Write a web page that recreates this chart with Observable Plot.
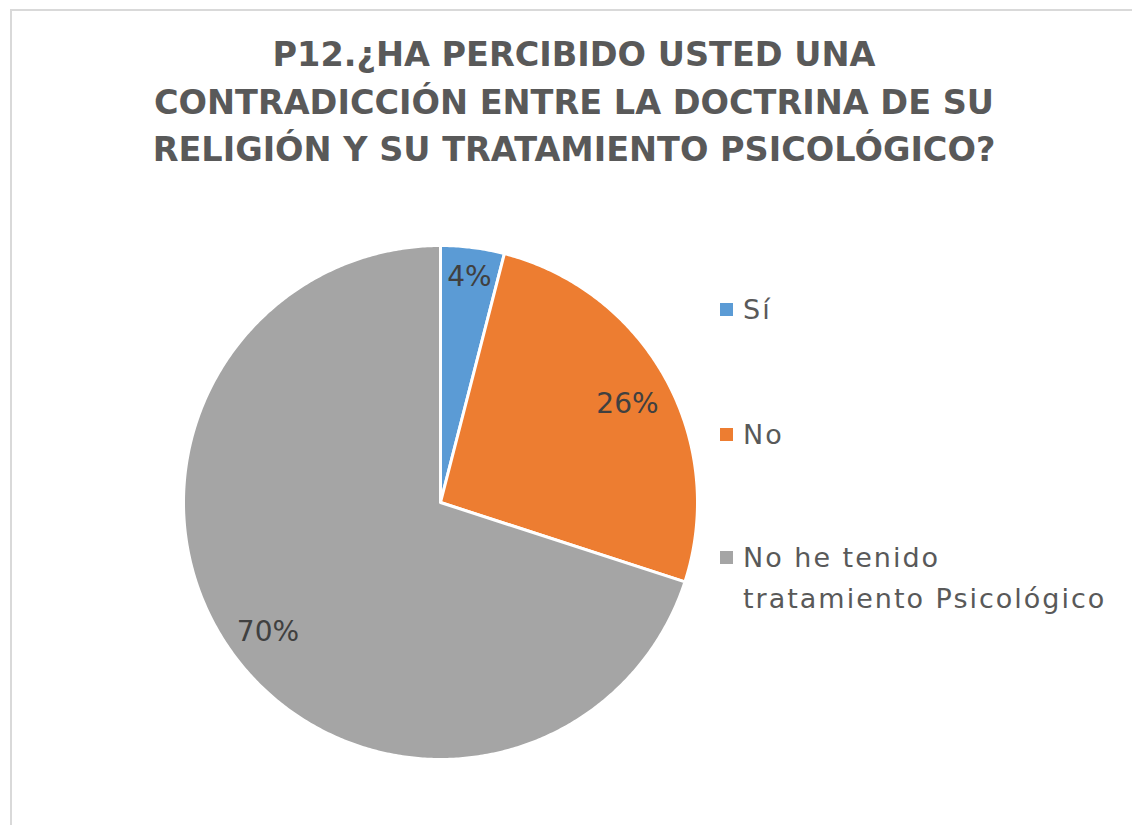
<!DOCTYPE html>
<html>
<head>
<meta charset="utf-8">
<script src="https://cdn.jsdelivr.net/npm/d3@7"></script>
<script src="https://cdn.jsdelivr.net/npm/@observablehq/plot@0.6"></script>
<style>
  html, body { margin: 0; padding: 0; background: #fff; }
  body { width: 1132px; height: 825px; position: relative; overflow: hidden; }
  #frame { position: absolute; left: 10px; top: 9px; width: 1200px; height: 900px;
           border-left: 2px solid #d9d9d9; border-top: 2px solid #d9d9d9; }
  #chart { position: absolute; left: 0; top: 0; }
  #title { position: absolute; left: 0; width: 1148px; top: 31px; text-align: center;
           font-family: "DejaVu Sans", sans-serif; font-weight: bold; font-size: 33.5px;
           line-height: 47.5px; color: #595959; }
  .leg { position: absolute; left: 720px; font-family: "DejaVu Sans", sans-serif; font-size: 27px;
         color: #595959; line-height: 41px; letter-spacing: 2px; }
  .sw { position: absolute; left: 0; width: 13px; height: 13px; }
  .lt { position: absolute; left: 23px; white-space: nowrap; }
</style>
</head>
<body>
<div id="frame"></div>
<div id="chart"></div>
<div id="title"></div>
<div id="legend"></div>
<script>
const titleLines = ["P12.¿HA PERCIBIDO USTED UNA", "CONTRADICCIÓN ENTRE LA DOCTRINA DE SU", "RELIGIÓN Y SU TRATAMIENTO PSICOLÓGICO?"];
const categories = ["Sí", "No", "No he tenido tratamiento Psicológico"];
const legendLines = [["Sí"], ["No"], ["No he tenido", "tratamiento Psicológico"]];
const values = [4, 26, 70];
const colors = ["#5B9BD5", "#ED7D31", "#A5A5A5"];

document.getElementById("title").innerHTML = titleLines.join("<br>");

const total = d3.sum(values);
let acc = 0;
const slices = categories.map((c, i) => {
  const a0 = acc / total * 2 * Math.PI;
  acc += values[i];
  const a1 = acc / total * 2 * Math.PI;
  const n = Math.max(2, Math.ceil((a1 - a0) / (Math.PI / 360)));
  const ring = [[0, 0]];
  for (let k = 0; k <= n; k++) {
    const a = a0 + (a1 - a0) * k / n;
    ring.push([Math.sin(a), Math.cos(a)]);
  }
  ring.push([0, 0]);
  const mid = (a0 + a1) / 2;
  const share = values[i] / total;
  const lr = share < 0.1 ? 0.9 : 0.83;
  return {
    type: "Feature",
    properties: {category: c, value: values[i], label: Math.round(share * 100) + "%",
                 lx: lr * Math.sin(mid), ly: lr * Math.cos(mid)},
    geometry: {type: "Polygon", coordinates: [ring]}
  };
});

const chart = Plot.plot({
  width: 1132,
  height: 825,
  marginLeft: 183,
  marginRight: 435,
  marginTop: 245,
  marginBottom: 66,
  projection: {type: "reflect-y", domain: {type: "MultiPoint", coordinates: [[-1, -1], [1, 1]]}, inset: 0},
  color: {domain: categories, range: colors},
  marks: [
    Plot.geo(slices, {fill: d => d.properties.category, stroke: "white", strokeWidth: 3, strokeLinejoin: "round"}),
    Plot.text(slices, {x: d => d.properties.lx, y: d => d.properties.ly, text: d => d.properties.label,
      fill: "#404040", fontSize: 28, fontFamily: "DejaVu Sans, sans-serif", dy: 4})
  ]
});
document.getElementById("chart").appendChild(chart);

const legendY = [289, 414, 537];
const leg = document.getElementById("legend");
categories.forEach((c, i) => {
  const d = document.createElement("div");
  d.className = "leg";
  d.style.top = legendY[i] + "px";
  d.innerHTML = `<div class="sw" style="top:14px;background:${colors[i]}"></div><div class="lt">${legendLines[i].join("<br>")}</div>`;
  leg.appendChild(d);
});
</script>
</body>
</html>
